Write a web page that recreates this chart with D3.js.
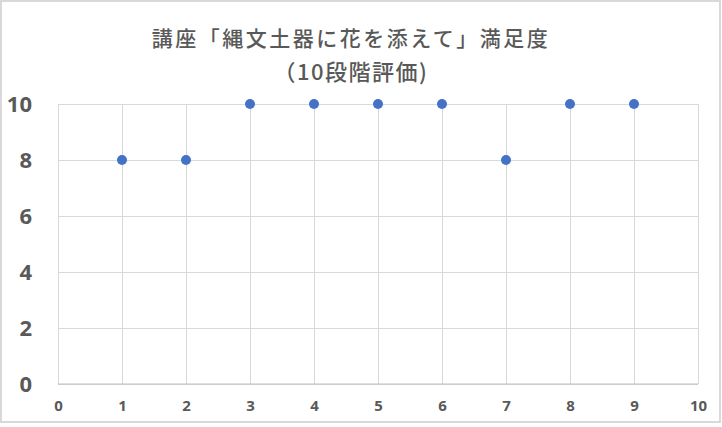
<!DOCTYPE html>
<html>
<head>
<meta charset="utf-8">
<script src="https://cdn.jsdelivr.net/npm/d3@7"></script>
<style>
  body { margin: 0; background: #fff; }
  text { font-family: "Noto Sans", "Noto Sans CJK JP", sans-serif; }
</style>
</head>
<body>
<div id="chart"></div>
<script>
/*
 * Chart data.
 */
var titleLines = ['講座「縄文土器に花を添えて」満足度', '（10段階評価)']
  , lessons = [1, 2, 3, 4, 5, 6, 7, 8, 9]
  , scores = [8, 8, 10, 10, 10, 10, 8, 10, 10]
  , xTicks = [0, 1, 2, 3, 4, 5, 6, 7, 8, 9, 10]
  , yTicks = [0, 2, 4, 6, 8, 10];

var width = 722
  , height = 427
  , margin = { top: 104, right: 24, bottom: 43, left: 58 };

var svg = d3.select('#chart').append('svg')
  .attr('width', width)
  .attr('height', height);

// outer frame
svg.append('rect')
  .attr('x', 1).attr('y', 1)
  .attr('width', 719).attr('height', 421)
  .attr('fill', '#fff')
  .attr('stroke', '#d9d9d9')
  .attr('stroke-width', 2);

// title, two lines
svg.selectAll('text.title')
  .data(titleLines)
  .enter()
  .append('text')
  .attr('class', 'title')
  .attr('x', 351)
  .attr('y', function(d, i) { return 46 + i * 34; })
  .attr('text-anchor', 'middle')
  .attr('fill', '#595959')
  .style('font-family', '"Noto Sans CJK JP", sans-serif')
  .style('font-size', function(d, i) { return i ? '22px' : '21px'; })
  .style('font-weight', 500)
  .style('letter-spacing', function(d, i) { return i ? '1.5px' : '2.5px'; })
  .text(function(d) { return d; });

var x = d3.scaleLinear()
  .domain([0, 10])
  .range([margin.left, width - margin.right]);

var y = d3.scaleLinear()
  .domain([0, 10])
  .range([height - margin.bottom, margin.top]);

// gridlines
svg.append('g')
  .attr('transform', 'translate(' + margin.left + ',0)')
  .call(d3.axisLeft(y).tickValues(yTicks)
    .tickSize(-(width - margin.left - margin.right)).tickFormat(''))
  .call(function(g) {
    g.select('.domain').remove();
    g.selectAll('line').attr('stroke', '#d9d9d9');
  });

svg.append('g')
  .attr('transform', 'translate(0,' + (height - margin.bottom) + ')')
  .call(d3.axisBottom(x).tickValues(xTicks)
    .tickSize(-(height - margin.top - margin.bottom)).tickFormat(''))
  .call(function(g) {
    g.select('.domain').remove();
    g.selectAll('line').attr('stroke', '#d9d9d9');
  });

// bottom axis line
svg.append('line')
  .attr('x1', x(0)).attr('x2', x(10))
  .attr('y1', y(0)).attr('y2', y(0))
  .attr('stroke', '#bfbfbf');

// y tick labels
svg.append('g')
  .attr('transform', 'translate(' + margin.left + ',0)')
  .call(d3.axisLeft(y).tickValues(yTicks).tickSize(0).tickPadding(26))
  .call(function(g) {
    g.select('.domain').remove();
    g.selectAll('text')
      .attr('fill', '#595959')
      .style('font-size', '22px')
      .style('font-weight', 'bold');
  });

// x tick labels
svg.append('g')
  .attr('transform', 'translate(0,' + (height - margin.bottom) + ')')
  .call(d3.axisBottom(x).tickValues(xTicks).tickSize(0).tickPadding(16))
  .call(function(g) {
    g.select('.domain').remove();
    g.selectAll('text')
      .attr('fill', '#595959')
      .style('font-size', '15px')
      .style('font-weight', 'bold');
  });

// points
svg.selectAll('circle.pt')
  .data(lessons)
  .enter()
  .append('circle')
  .attr('class', 'pt')
  .attr('cx', function(d) { return x(d); })
  .attr('cy', function(d, i) { return y(scores[i]); })
  .attr('r', 5)
  .attr('fill', '#4472c4');
</script>
</body>
</html>
